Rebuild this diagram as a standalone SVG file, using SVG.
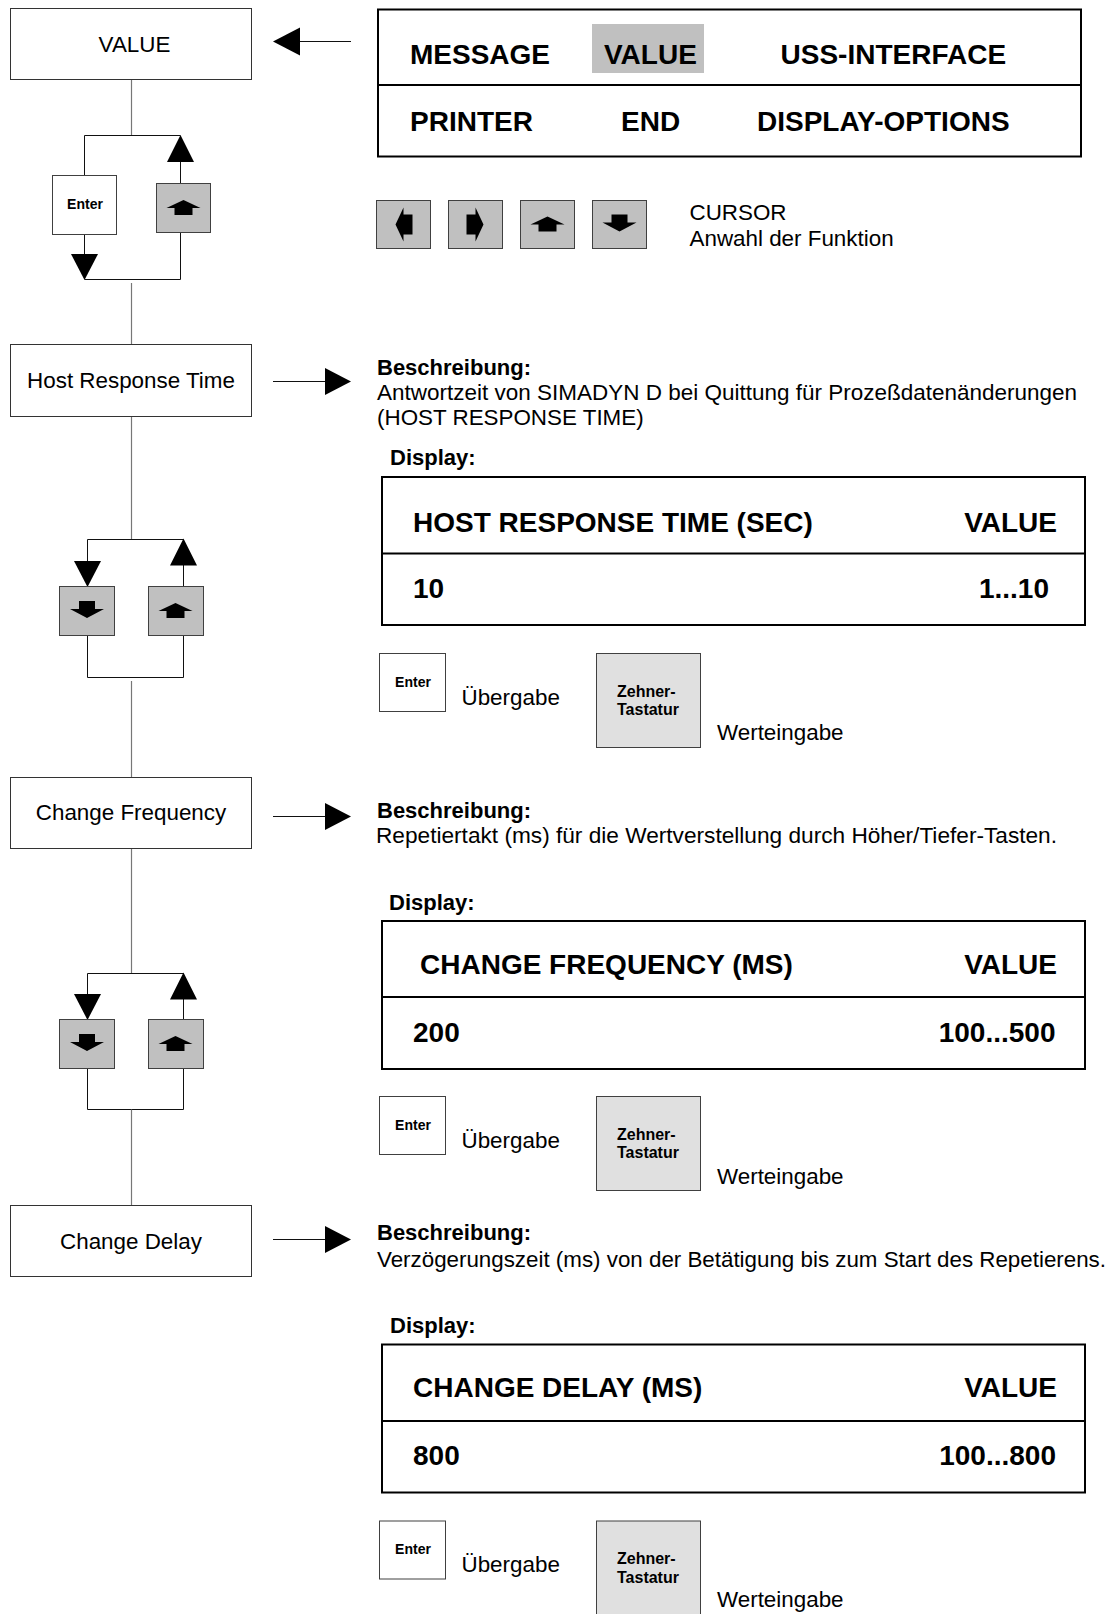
<svg xmlns="http://www.w3.org/2000/svg" xmlns:xlink="http://www.w3.org/1999/xlink" width="1118" height="1614" viewBox="0 0 1118 1614">
<style>
  text{font-family:"Liberation Sans",Arial,Helvetica,sans-serif;fill:#000}
  .t{font-size:22.4px}
  .tb{font-size:22px;font-weight:bold}
  .big{font-size:28px;font-weight:bold}
  .k{font-size:14px;font-weight:bold}
  .pk{font-size:16px;font-weight:bold}
  .mid{text-anchor:middle}
  .end{text-anchor:end}
  .node{fill:#fff;stroke:#333;stroke-width:1}
  .key{fill:#c0c0c0;stroke:#404040;stroke-width:1}
  .enter{fill:#fff;stroke:#404040;stroke-width:1}
  .pad{fill:#e0e0e0;stroke:#404040;stroke-width:1}
  .panel{fill:#fff;stroke:#000;stroke-width:2}
  .sep{stroke:#000;stroke-width:2}
  .wire{fill:none;stroke:#111;stroke-width:1}
  .trunk{fill:none;stroke:#777;stroke-width:1.2}
  .head{fill:#000}
</style>
<defs>
  <!-- key glyphs, centred on the origin -->
  <path id="g-up" d="M0,-8 L17,0 L9,0 L9,7 L-9,7 L-9,0 L-17,0 Z"/>
  <path id="g-down" d="M-8,-10 L8,-10 L8,-2 L17,-2 L0,7 L-17,-2 L-8,-2 Z"/>
  <path id="g-left" d="M-8,0 L0,-17 L0,-10 L9,-10 L9,10 L0,10 L0,17 Z"/>
  <path id="g-right" d="M8,0 L0,-17 L0,-10 L-9,-10 L-9,10 L0,10 L0,17 Z"/>
  <!-- connector heads, tip at the origin -->
  <path id="h-up" d="M0,0 L13.5,27 L-13.5,27 Z"/>
  <path id="h-down" d="M0,0 L13.5,-26 L-13.5,-26 Z"/>
  <path id="h-right" d="M0,0 L-26,-13.5 L-26,13.5 Z"/>
  <path id="h-left" d="M0,0 L27,-14 L27,14 Z"/>
</defs>

<!-- ===== connectors ===== -->
<g id="connectors">
  <!-- menu to VALUE -->
  <line class="wire" x1="299" y1="41.5" x2="351" y2="41.5"/>
  <use href="#h-left" x="273" y="41.5" class="head"/>

  <!-- VALUE loop -->
  <line class="trunk" x1="131.5" y1="80" x2="131.5" y2="135.5"/>
  <path class="wire" d="M84.5,175.5 V135.5 H180.5"/>
  <line class="wire" x1="180.5" y1="183.5" x2="180.5" y2="160"/>
  <use href="#h-up" x="180.5" y="135" class="head"/>
  <line class="wire" x1="84.5" y1="234.5" x2="84.5" y2="256"/>
  <use href="#h-down" x="84.5" y="280" class="head"/>
  <path class="wire" d="M84.5,279.5 H180.5 V232.5"/>
  <line class="trunk" x1="131.5" y1="283" x2="131.5" y2="344.5"/>

  <!-- Host Response Time -->
  <line class="wire" x1="273" y1="381.5" x2="327" y2="381.5"/>
  <use href="#h-right" x="351" y="381.5" class="head"/>
  <line class="trunk" x1="131.5" y1="416.5" x2="131.5" y2="539.5"/>
  <path class="wire" d="M87.5,563 V539.5 H183.5"/>
  <use href="#h-down" x="87.5" y="587" class="head"/>
  <line class="wire" x1="183.5" y1="586.5" x2="183.5" y2="563"/>
  <use href="#h-up" x="183.5" y="538.5" class="head"/>
  <path class="wire" d="M87.5,635.5 V677.5 H183.5 V635.5"/>
  <line class="trunk" x1="131.5" y1="681" x2="131.5" y2="777.5"/>

  <!-- Change Frequency -->
  <line class="wire" x1="273" y1="816.5" x2="327" y2="816.5"/>
  <use href="#h-right" x="351" y="816.5" class="head"/>
  <line class="trunk" x1="131.5" y1="848.5" x2="131.5" y2="973.5"/>
  <path class="wire" d="M87.5,996 V973.5 H183.5"/>
  <use href="#h-down" x="87.5" y="1020" class="head"/>
  <line class="wire" x1="183.5" y1="1019.5" x2="183.5" y2="996"/>
  <use href="#h-up" x="183.5" y="972.5" class="head"/>
  <path class="wire" d="M87.5,1068.5 V1109.5 H183.5 V1068.5"/>
  <line class="trunk" x1="131.5" y1="1109.5" x2="131.5" y2="1205.5"/>

  <!-- Change Delay -->
  <line class="wire" x1="273" y1="1239.5" x2="327" y2="1239.5"/>
  <use href="#h-right" x="351" y="1239.5" class="head"/>
</g>

<!-- ===== menu nodes ===== -->
<g id="n-value">
  <rect class="node" x="10.5" y="8.5" width="241" height="71"/>
  <text class="t mid" x="134.5" y="52">VALUE</text>
</g>
<g id="k-value-enter">
  <rect class="enter" x="52.5" y="175.5" width="64" height="59"/>
  <text class="k mid" x="85" y="209">Enter</text>
</g>
<g id="k-value-up">
  <rect class="key" x="156.5" y="183.5" width="54" height="49"/>
  <use href="#g-up" x="183.5" y="208"/>
</g>

<g id="n-host">
  <rect class="node" x="10.5" y="344.5" width="241" height="72"/>
  <text class="t mid" x="131" y="388">Host Response Time</text>
</g>
<g id="k-host-down">
  <rect class="key" x="59.5" y="586.5" width="55" height="49"/>
  <use href="#g-down" x="87" y="611"/>
</g>
<g id="k-host-up">
  <rect class="key" x="148.5" y="586.5" width="55" height="49"/>
  <use href="#g-up" x="175.5" y="611"/>
</g>

<g id="n-freq">
  <rect class="node" x="10.5" y="777.5" width="241" height="71"/>
  <text class="t mid" x="131" y="820">Change Frequency</text>
</g>
<g id="k-freq-down">
  <rect class="key" x="59.5" y="1019.5" width="55" height="49"/>
  <use href="#g-down" x="87" y="1044"/>
</g>
<g id="k-freq-up">
  <rect class="key" x="148.5" y="1019.5" width="55" height="49"/>
  <use href="#g-up" x="175.5" y="1044"/>
</g>

<g id="n-delay">
  <rect class="node" x="10.5" y="1205.5" width="241" height="71"/>
  <text class="t mid" x="131" y="1249">Change Delay</text>
</g>

<!-- ===== main menu display ===== -->
<g id="menu">
  <rect class="panel" x="378" y="9.5" width="703" height="147"/>
  <line class="sep" x1="378" y1="85" x2="1081" y2="85"/>
  <rect x="592" y="24" width="112" height="49" fill="#c0c0c0"/>
  <text class="big" x="410" y="64">MESSAGE</text>
  <text class="big" x="604" y="64">VALUE</text>
  <text class="big" x="780.5" y="64">USS-INTERFACE</text>
  <text class="big" x="410" y="130.5">PRINTER</text>
  <text class="big" x="621" y="130.5">END</text>
  <text class="big" x="757" y="130.5">DISPLAY-OPTIONS</text>
</g>

<g id="cursor-keys">
  <rect class="key" x="376.5" y="200.5" width="54" height="48"/>
  <use href="#g-left" x="403.5" y="224.5"/>
  <rect class="key" x="448.5" y="200.5" width="54" height="48"/>
  <use href="#g-right" x="475.5" y="224.5"/>
  <rect class="key" x="520.5" y="200.5" width="54" height="48"/>
  <use href="#g-up" x="547.5" y="224.5"/>
  <rect class="key" x="592.5" y="200.5" width="54" height="48"/>
  <use href="#g-down" x="619.5" y="224.5"/>
  <text class="t" x="689.5" y="220">CURSOR</text>
  <text class="t" x="689.5" y="246">Anwahl der Funktion</text>
</g>

<!-- ===== Host Response Time detail ===== -->
<g id="d-host">
  <text class="tb" x="377" y="375">Beschreibung:</text>
  <text class="t" x="377" y="400" textLength="700" lengthAdjust="spacingAndGlyphs">Antwortzeit von SIMADYN D bei Quittung für Prozeßdatenänderungen</text>
  <text class="t" x="377" y="425">(HOST RESPONSE TIME)</text>
  <text class="tb" x="390" y="465">Display:</text>
  <rect class="panel" x="382" y="477" width="703" height="148"/>
  <line class="sep" x1="382" y1="553.5" x2="1085" y2="553.5"/>
  <text class="big" x="413" y="532">HOST RESPONSE TIME (SEC)</text>
  <text class="big end" x="1057" y="532">VALUE</text>
  <text class="big" x="413" y="598">10</text>
  <text class="big end" x="1049" y="598">1...10</text>
  <rect class="enter" x="379.5" y="653.5" width="66" height="58"/>
  <text class="k mid" x="413" y="687">Enter</text>
  <text class="t" x="461.5" y="705">Übergabe</text>
  <rect class="pad" x="596.5" y="653.5" width="104" height="94"/>
  <text class="pk" x="617" y="697">Zehner-</text>
  <text class="pk" x="617" y="715">Tastatur</text>
  <text class="t" x="717" y="740">Werteingabe</text>
</g>

<!-- ===== Change Frequency detail ===== -->
<g id="d-freq">
  <text class="tb" x="377" y="818">Beschreibung:</text>
  <text class="t" x="376" y="843" textLength="681" lengthAdjust="spacingAndGlyphs">Repetiertakt (ms) für die Wertverstellung durch Höher/Tiefer-Tasten.</text>
  <text class="tb" x="389" y="910">Display:</text>
  <rect class="panel" x="382" y="921" width="703" height="148"/>
  <line class="sep" x1="382" y1="997" x2="1085" y2="997"/>
  <text class="big" x="420" y="974">CHANGE FREQUENCY (MS)</text>
  <text class="big end" x="1057" y="974">VALUE</text>
  <text class="big" x="413" y="1042">200</text>
  <text class="big end" x="1055.5" y="1042">100...500</text>
  <rect class="enter" x="379.5" y="1096.5" width="66" height="58"/>
  <text class="k mid" x="413" y="1130">Enter</text>
  <text class="t" x="461.5" y="1148">Übergabe</text>
  <rect class="pad" x="596.5" y="1096.5" width="104" height="94"/>
  <text class="pk" x="617" y="1140">Zehner-</text>
  <text class="pk" x="617" y="1158">Tastatur</text>
  <text class="t" x="717" y="1184">Werteingabe</text>
</g>

<!-- ===== Change Delay detail ===== -->
<g id="d-delay">
  <text class="tb" x="377" y="1240">Beschreibung:</text>
  <text class="t" x="377" y="1267" textLength="729" lengthAdjust="spacingAndGlyphs">Verzögerungszeit (ms) von der Betätigung bis zum Start des Repetierens.</text>
  <text class="tb" x="390" y="1333">Display:</text>
  <rect class="panel" x="382" y="1344.5" width="703" height="148"/>
  <line class="sep" x1="382" y1="1421" x2="1085" y2="1421"/>
  <text class="big" x="413" y="1397">CHANGE DELAY (MS)</text>
  <text class="big end" x="1057" y="1397">VALUE</text>
  <text class="big" x="413" y="1465">800</text>
  <text class="big end" x="1056" y="1465">100...800</text>
  <rect class="enter" x="379.5" y="1521" width="66" height="58"/>
  <text class="k mid" x="413" y="1554">Enter</text>
  <text class="t" x="461.5" y="1572">Übergabe</text>
  <rect class="pad" x="596.5" y="1521" width="104" height="100"/>
  <text class="pk" x="617" y="1563.5">Zehner-</text>
  <text class="pk" x="617" y="1583">Tastatur</text>
  <text class="t" x="717" y="1607">Werteingabe</text>
</g>
</svg>
